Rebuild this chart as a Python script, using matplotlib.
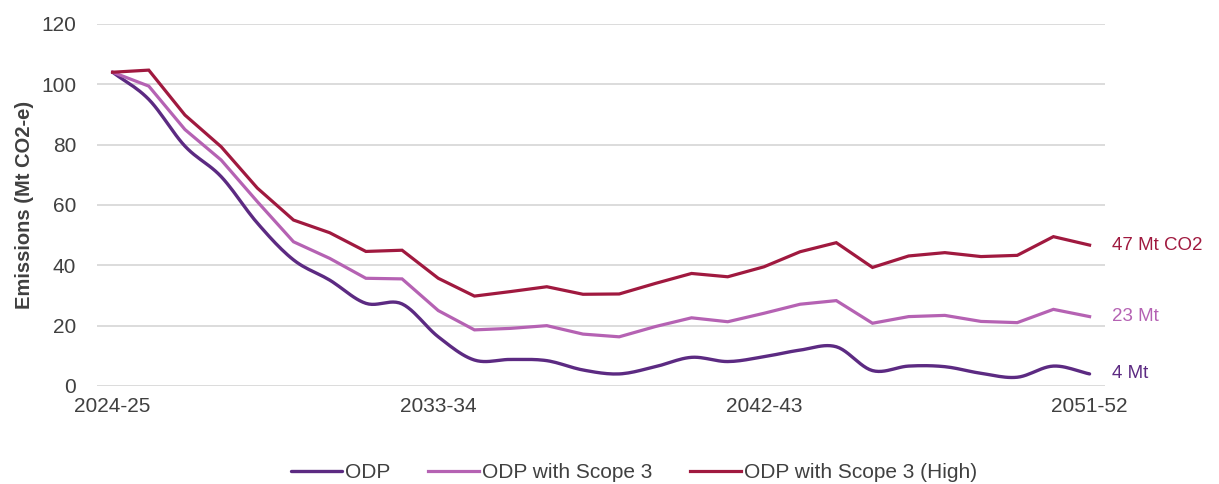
import numpy as np
import matplotlib
matplotlib.use("Agg")
import matplotlib.pyplot as plt

plt.rcParams['font.family'] = ['Liberation Sans', 'DejaVu Sans']

years = [f"{y}-{str(y+1)[-2:]}" for y in range(2024, 2052)]
tick_labels = ["2024-25", "2033-34", "2042-43", "2051-52"]

odp = [104, 95, 79.5, 69.4, 54, 41.8, 35.1, 27.4, 27.2, 16.3, 8.6, 8.8, 8.4, 5.3,
       4.0, 6.4, 9.5, 8.1, 9.7, 11.9, 13.0, 5.1, 6.6, 6.4, 4.2, 2.9, 6.6, 4.0]
scope3 = [104, 99.4, 85, 74.9, 61.1, 47.8, 42.3, 35.7, 35.5, 25.0, 18.6, 19.1, 20.0, 17.2,
          16.3, 19.7, 22.6, 21.3, 24.1, 27.1, 28.3, 20.8, 23.0, 23.4, 21.4, 21.0, 25.4, 23.0]
high = [104, 104.7, 89.8, 79.3, 65.6, 55.0, 50.8, 44.6, 45.0, 35.7, 29.8, 31.3, 32.9, 30.4,
        30.5, 34.0, 37.3, 36.2, 39.5, 44.5, 47.5, 39.3, 43.1, 44.2, 42.9, 43.3, 49.5, 46.7]

series_names = ["ODP", "ODP with Scope 3", "ODP with Scope 3 (High)"]
end_labels = ["4 Mt", "23 Mt", "47 Mt CO2"]
colors = ["#5C2A82", "#B562B3", "#A0193F"]


def smooth(xs, ys, n=12):
    """Catmull-Rom smoothing (like Excel 'smoothed line')."""
    xs = np.asarray(xs, float)
    ys = np.asarray(ys, float)
    px = np.concatenate([[2*xs[0]-xs[1]], xs, [2*xs[-1]-xs[-2]]])
    py = np.concatenate([[2*ys[0]-ys[1]], ys, [2*ys[-1]-ys[-2]]])
    outx, outy = [], []
    t = np.linspace(0, 1, n, endpoint=False)
    for i in range(1, len(px)-2):
        for p, o in ((px, outx), (py, outy)):
            p0, p1, p2, p3 = p[i-1], p[i], p[i+1], p[i+2]
            o.extend(0.5*((2*p1) + (-p0+p2)*t + (2*p0-5*p1+4*p2-p3)*t**2 + (-p0+3*p1-3*p2+p3)*t**3))
    outx.append(xs[-1]); outy.append(ys[-1])
    return np.array(outx), np.array(outy)


fig = plt.figure(figsize=(12.19, 4.84), dpi=100)
ax = fig.add_axes([0.0796, 0.2025, 0.827, 0.748])

x = np.arange(len(years))
sx, sy = smooth(x, odp)
ax.plot(sx, sy, color=colors[0], lw=2.4, label=series_names[0], solid_capstyle='round')
ax.plot(x, scope3, color=colors[1], lw=2.3, label=series_names[1], solid_joinstyle='miter')
ax.plot(x, high, color=colors[2], lw=2.3, label=series_names[2], solid_joinstyle='miter')

for vals, lab, c in zip([odp, scope3, high], end_labels, colors):
    ax.annotate(lab, xy=(x[-1], vals[-1]), xytext=(16, 0), textcoords='offset points',
                color=c, fontsize=13.5, va='center', ha='left', annotation_clip=False)

ax.set_xlim(-0.43, len(years) - 1 + 0.43)
ax.set_ylim(0, 120)
ax.set_yticks(np.arange(0, 121, 20))
ax.set_xticks([years.index(t) for t in tick_labels])
ax.set_xticklabels(tick_labels)
ax.grid(axis='y', color='#d9d9d9', lw=1.3)
ax.set_axisbelow(True)
for s in ax.spines.values():
    s.set_visible(False)
ax.tick_params(axis='both', length=0, labelsize=15, labelcolor='#404040')
ax.tick_params(axis='y', pad=15)
ax.tick_params(axis='x', pad=8)
ax.set_ylabel("Emissions (Mt CO2-e)", fontsize=14.5, fontweight='bold', color='#404040', labelpad=5)

fig.legend(loc='center', bbox_to_anchor=(0.52, 0.024), ncol=3, frameon=False,
           fontsize=15, handlelength=2.45, columnspacing=1.8, handletextpad=0.15,
           labelcolor='#404040', borderaxespad=0, borderpad=0)

fig.savefig("out.png", dpi=100)
